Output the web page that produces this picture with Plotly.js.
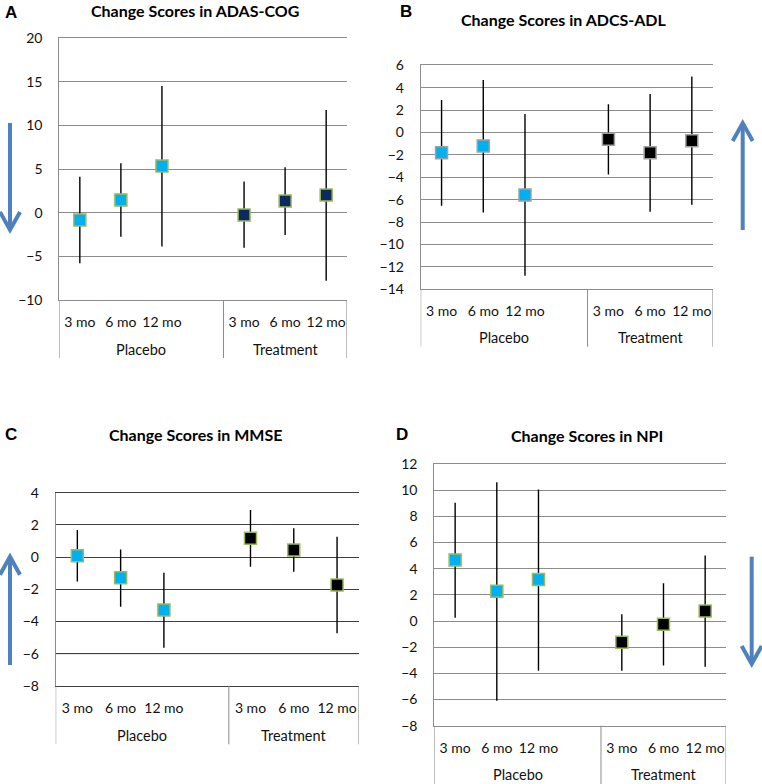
<!DOCTYPE html>
<html><head><meta charset="utf-8">
<script src="https://cdn.plot.ly/plotly-3.0.1.min.js"></script>
<style>html,body{margin:0;padding:0;background:#fff}#chart{width:762px;height:784px}</style>
</head><body><div id="chart"></div>
<script>
const W = 762, H = 784;
const groups = ['Placebo', 'Treatment'];
const months = ['3 mo', '6 mo', '12 mo'];
const titles = ['Change Scores in ADAS-COG', 'Change Scores in ADCS-ADL', 'Change Scores in MMSE', 'Change Scores in NPI'];
const letters = ['A', 'B', 'C', 'D'];

// A: ADAS-COG
const adasPlacebo   = [-0.83, 1.47, 5.36];
const adasPlaceboHi = [4.14, 5.67, 14.54];
const adasPlaceboLo = [-5.8, -2.74, -3.88];
const adasTreat     = [-0.25, 1.35, 2.04];
const adasTreatHi   = [3.57, 5.21, 11.78];
const adasTreatLo   = [-4.0, -2.55, -7.78];
// B: ADCS-ADL
const adlPlacebo   = [-1.8, -1.2, -5.58];
const adlPlaceboHi = [2.9, 4.69, 1.65];
const adlPlaceboLo = [-6.53, -7.15, -12.8];
const adlTreat     = [-0.61, -1.8, -0.73];
const adlTreatHi   = [2.52, 3.44, 4.99];
const adlTreatLo   = [-3.76, -7.07, -6.44];
// C: MMSE
const mmsePlacebo   = [0.09, -1.28, -3.28];
const mmsePlaceboHi = [1.68, 0.48, -0.97];
const mmsePlaceboLo = [-1.52, -3.08, -5.62];
const mmseTreat     = [1.17, 0.44, -1.73];
const mmseTreatHi   = [2.92, 1.79, 1.27];
const mmseTreatLo   = [-0.59, -0.9, -4.73];
// D: NPI
const npiPlacebo   = [4.66, 2.27, 3.18];
const npiPlaceboHi = [9.04, 10.6, 10.06];
const npiPlaceboLo = [0.25, -6.09, -3.8];
const npiTreat     = [-1.63, -0.25, 0.76];
const npiTreatHi   = [0.51, 2.88, 5.0];
const npiTreatLo   = [-3.8, -3.39, -3.49];

const yRanges = [[-10, 20], [-14, 6], [-8, 4], [-8, 12]];
const yDticks = [5, 2, 2, 2];

const FONT = 'Lato, "Open Sans", sans-serif';
const TXT = '#111';
const px = x => x / W;
const py = y => 1 - y / H;

// panel geometry (pixels)
const panels = [
  {L: 59.3, R: 346.7, T: 38.3, B: 300, divEnd: 358, grpY: 349, titleX: 195, titleY: 10.5, letX: 11, letY: 12.5,
   grid: '#8c8c8c', axis: '#8c8c8c', trColor: '#0b2a5e', border: '#9bbb59'},
  {L: 420.7, R: 712.7, T: 65.3, B: 289.3, divEnd: 346.7, grpY: 337.7, titleX: 564, titleY: 19.5, letX: 406, letY: 11.5,
   grid: '#8c8c8c', axis: '#8c8c8c', trColor: '#000000', border: '#a0a0a0'},
  {L: 55.7, R: 358.7, T: 492.7, B: 686, divEnd: 744.3, grpY: 735, titleX: 195, titleY: 434.5, letX: 11, letY: 434.5,
   grid: '#404040', axis: '#8c8c8c', trColor: '#000000', border: '#9bbb59'},
  {L: 434.3, R: 726, T: 464, B: 725.7, divEnd: 784, grpY: 774, titleX: 587.3, titleY: 435, letX: 402, letY: 434.5,
   grid: '#8c8c8c', axis: '#8c8c8c', trColor: '#000000', border: '#9bbb59'}
];

const series = [
  [adasPlacebo, adasPlaceboHi, adasPlaceboLo, adasTreat, adasTreatHi, adasTreatLo],
  [adlPlacebo, adlPlaceboHi, adlPlaceboLo, adlTreat, adlTreatHi, adlTreatLo],
  [mmsePlacebo, mmsePlaceboHi, mmsePlaceboLo, mmseTreat, mmseTreatHi, mmseTreatLo],
  [npiPlacebo, npiPlaceboHi, npiPlaceboLo, npiTreat, npiTreatHi, npiTreatLo]
];

// category slots: placebo 1..3, blank slot 4, treatment 5..7
const xPl = months.map((m, i) => i + 1);
const xTr = months.map((m, i) => i + months.length + 2);
const xMin = 0.5, xMax = months.length * 2 + 1.5;
const groupBounds = [[xMin, months.length + 1.5], [months.length + 1.5, xMax]];

const traces = [];
const layout = {
  width: W, height: H, margin: {l: 0, r: 0, t: 0, b: 0},
  paper_bgcolor: '#fff', plot_bgcolor: '#fff', showlegend: false,
  font: {family: FONT, size: 14, color: TXT},
  shapes: [], annotations: []
};

panels.forEach((p, k) => {
  const n = k === 0 ? '' : String(k + 1);
  const xa = 'x' + n, ya = 'y' + n;
  const [mP, hP, lP, mT, hT, lT] = series[k];
  const mk = (xs, m, h, l, color) => ({
    type: 'scatter', mode: 'markers', x: xs, y: m, xaxis: xa, yaxis: ya,
    marker: {symbol: 'square', size: 12, color: color, line: {color: p.border, width: 1.5}},
    error_y: {type: 'data', symmetric: false, array: m.map((v, i) => h[i] - v), arrayminus: m.map((v, i) => v - l[i]),
              color: '#000', thickness: 1.4, width: 0},
    hoverinfo: 'skip', cliponaxis: false
  });
  traces.push(mk(xPl, mP, hP, lP, '#00b0f0'));
  traces.push(mk(xTr, mT, hT, lT, p.trColor));

  layout['xaxis' + n] = {
    domain: [px(p.L), px(p.R)], anchor: ya, range: [xMin, xMax], fixedrange: true,
    tickmode: 'array', tickvals: xPl.concat(xTr), ticktext: months.concat(months),
    ticks: '', ticklabelstandoff: 9, showgrid: false, zeroline: false,
    showline: true, mirror: true, linecolor: k === 2 ? '#404040' : p.grid, linewidth: 1,
    tickfont: {family: FONT, size: 14, color: TXT}
  };
  layout['yaxis' + n] = {
    domain: [py(p.B), py(p.T)], anchor: xa, range: yRanges[k], dtick: yDticks[k], fixedrange: true,
    showgrid: true, gridcolor: p.grid, gridwidth: 1, zeroline: false,
    showline: true, mirror: false, linecolor: p.axis, linewidth: 1,
    ticks: '', ticklabelstandoff: 13,
    tickfont: {family: FONT, size: 14, color: TXT}
  };
  // dividers of category groups
  const divs = [groupBounds[0][0], groupBounds[0][1], groupBounds[1][1]];
  divs.forEach(d => layout.shapes.push({type: 'line', xref: xa, yref: 'paper', x0: d, x1: d,
    y0: py(p.B), y1: py(p.divEnd), line: {color: p.axis, width: 1}}));
  if (k === 2) {
    layout.shapes.push({type: 'line', xref: xa + ' domain', yref: ya, x0: 0, x1: 1, y0: -6, y1: -6,
      line: {color: '#9a9a9a', width: 1}, layer: 'below'});
  }
  groups.forEach((g, gi) => layout.annotations.push({
    xref: xa, yref: 'paper', x: (groupBounds[gi][0] + groupBounds[gi][1]) / 2, y: py(p.grpY),
    text: g, showarrow: false, xanchor: 'center', yanchor: 'middle', font: {family: FONT, size: 14.5, color: TXT}
  }));
  layout.annotations.push({xref: 'paper', yref: 'paper', x: px(p.titleX), y: py(p.titleY), text: '<b>' + titles[k] + '</b>',
    showarrow: false, xanchor: 'center', yanchor: 'middle', font: {family: FONT, size: 16, color: '#000'}});
  layout.annotations.push({xref: 'paper', yref: 'paper', x: px(p.letX), y: py(p.letY), text: '<b>' + letters[k] + '</b>',
    showarrow: false, xanchor: 'center', yanchor: 'middle', font: {family: '"Liberation Sans", Arial, sans-serif', size: 17, color: '#000'}});
});

// direction arrows (decorations)
const arrows = [
  {x: 10, from: 123, to: 230},
  {x: 742.7, from: 230, to: 123},
  {x: 10, from: 665, to: 556.7},
  {x: 751.7, from: 556.7, to: 664}
];
arrows.forEach(a => {
  const dir = a.to > a.from ? 1 : -1;
  const shaft = `M ${px(a.x)} ${py(a.from)} L ${px(a.x)} ${py(a.to - dir * 1.5)}`;
  const head = `M ${px(a.x - 10)} ${py(a.to - dir * 18)} L ${px(a.x)} ${py(a.to)} L ${px(a.x + 10)} ${py(a.to - dir * 18)}`;
  layout.shapes.push({type: 'path', xref: 'paper', yref: 'paper', path: shaft, line: {color: '#4f81bd', width: 4}});
  layout.shapes.push({type: 'path', xref: 'paper', yref: 'paper', path: head, line: {color: '#4f81bd', width: 4}});
});

Plotly.newPlot('chart', traces, layout, {staticPlot: true, displayModeBar: false});
</script>
</body></html>
